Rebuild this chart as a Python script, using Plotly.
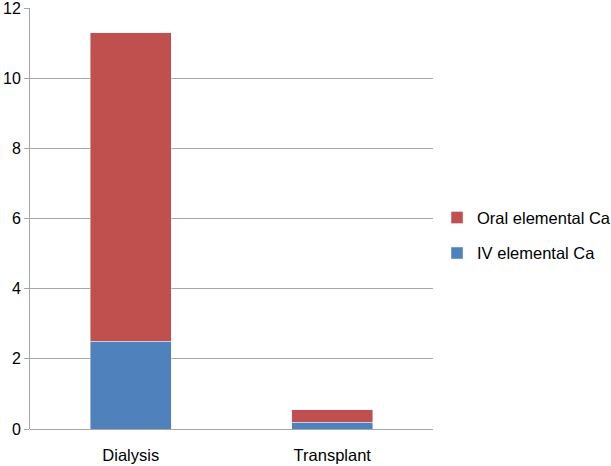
import plotly.graph_objects as go

categories = ["Dialysis", "Transplant"]
iv_ca = [2.5, 0.19]
oral_ca = [8.8, 0.36]

fig = go.Figure()
fig.add_trace(go.Bar(x=categories, y=iv_ca, name="IV elemental Ca",
                     marker_color="#4F81BD", legendgroup="iv", legendrank=2, width=0.4))
fig.add_trace(go.Bar(x=categories, y=oral_ca, name="Oral elemental Ca",
                     marker_color="#C0504D", legendgroup="oral", legendrank=1, width=0.4))

fig.update_layout(
    barmode="stack",
    width=611, height=466,
    margin=dict(l=30, r=178, t=8, b=37, autoexpand=False),
    paper_bgcolor="white", plot_bgcolor="white",
    font=dict(family="Liberation Sans, Arial, sans-serif", size=16.5, color="#000000"),
    showlegend=True,
    legend=dict(traceorder="grouped", x=1.01, xanchor="left", y=0.46, yanchor="middle",
                font=dict(size=16.5), tracegroupgap=11, itemwidth=30),
    xaxis=dict(showline=False, ticks="", showgrid=False, zeroline=False,
               automargin=False, ticklabelstandoff=14),
    yaxis=dict(range=[0, 12.001], tickvals=[0, 2, 4, 6, 8, 10, 12], showgrid=True,
               gridcolor="#A6A6A6", gridwidth=1, tickfont=dict(size=16),
               showline=True, linecolor="#A6A6A6", linewidth=1,
               ticks="outside", ticklen=5, tickcolor="#A6A6A6", automargin=False,
               ticklabeloverflow="allow",
               zeroline=True, zerolinecolor="#A6A6A6", zerolinewidth=1),
)
fig.write_html("out.html", config={"displayModeBar": False},
               post_script="document.body.style.margin='0';")
